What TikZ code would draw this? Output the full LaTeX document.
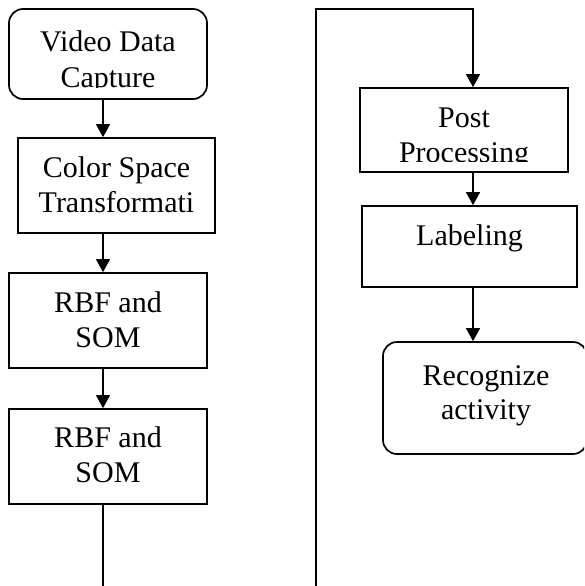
\documentclass[tikz,border=0pt]{standalone}
\usepackage{fontspec}
\setmainfont{Liberation Serif}
\usetikzlibrary{arrows.meta}
\begin{document}
\begin{tikzpicture}[x=1pt,y=-1pt,
  box/.style={draw, line width=1.7pt, inner sep=0pt},
  rbox/.style={box, rounded corners=14pt},
  txt/.style={inner sep=0pt, anchor=base, font=\fontsize{30}{35}\selectfont},
  link/.style={line width=1.4pt},
  arr/.style={link, -{Triangle[length=13pt,width=14pt]}}]
\useasboundingbox (0,0) rectangle (584,586);
\clip (0,0) rectangle (584,586);
% boxes
\node[rbox, minimum width=198pt, minimum height=90pt] (n1) at (108,54) {};
\node[box, minimum width=197pt, minimum height=95pt] (n2) at (116.5,185.5) {};
\node[box, minimum width=198pt, minimum height=95pt] (n3) at (108,320.5) {};
\node[box, minimum width=198pt, minimum height=95pt] (n4) at (108,456.5) {};
\node[box, minimum width=208pt, minimum height=84pt] (n5) at (464,130) {};
\node[box, minimum width=215pt, minimum height=81pt] (n6) at (469.5,246.5) {};
\node[rbox, minimum width=204pt, minimum height=112pt] (n7) at (485,398) {};
% texts
\begin{scope}
  \clip (9,9) rectangle (207,87.5);
  \node[txt] (t1a) at (108,52) {Video Data};
  \node[txt] (t1b) at (108,87) {Capture};
\end{scope}
\node[txt] (t2a) at (116.5,177) {Color Space};
\node[txt] (t2b) at (116.5,212) {Transformati};
\node[txt] (t3a) at (108,312) {RBF and};
\node[txt] (t3b) at (108,347) {SOM};
\node[txt] (t4a) at (108,447) {RBF and};
\node[txt] (t4b) at (108,482) {SOM};
\begin{scope}
  \clip (360,88) rectangle (568,161.5);
  \node[txt] (t5a) at (464,127) {Post};
  \node[txt] (t5b) at (464,162) {Processing};
\end{scope}
\node[txt] (t6) at (469.5,245) {Labeling};
\node[txt] (t7a) at (486,385) {Recognize};
\node[txt] (t7b) at (486,419) {activity};
% connector coordinates
\coordinate (lx) at (103,0);
\coordinate (rx) at (473,0);
\coordinate (e1) at (103,586);
\coordinate (e2) at (316,586);
\coordinate (c1) at (316,9);
\coordinate (c2) at (473,9);
% connectors
\draw[arr] (n1.south -| lx) -- (n2.north -| lx);
\draw[arr] (n2.south -| lx) -- (n3.north -| lx);
\draw[arr] (n3.south -| lx) -- (n4.north -| lx);
\draw[link] (n4.south -| lx) -- (e1);
\draw[arr] (e2) -- (c1) -- (c2) -- (n5.north -| rx);
\draw[arr] (n5.south -| rx) -- (n6.north -| rx);
\draw[arr] (n6.south -| rx) -- (n7.north -| rx);
\end{tikzpicture}
\end{document}
